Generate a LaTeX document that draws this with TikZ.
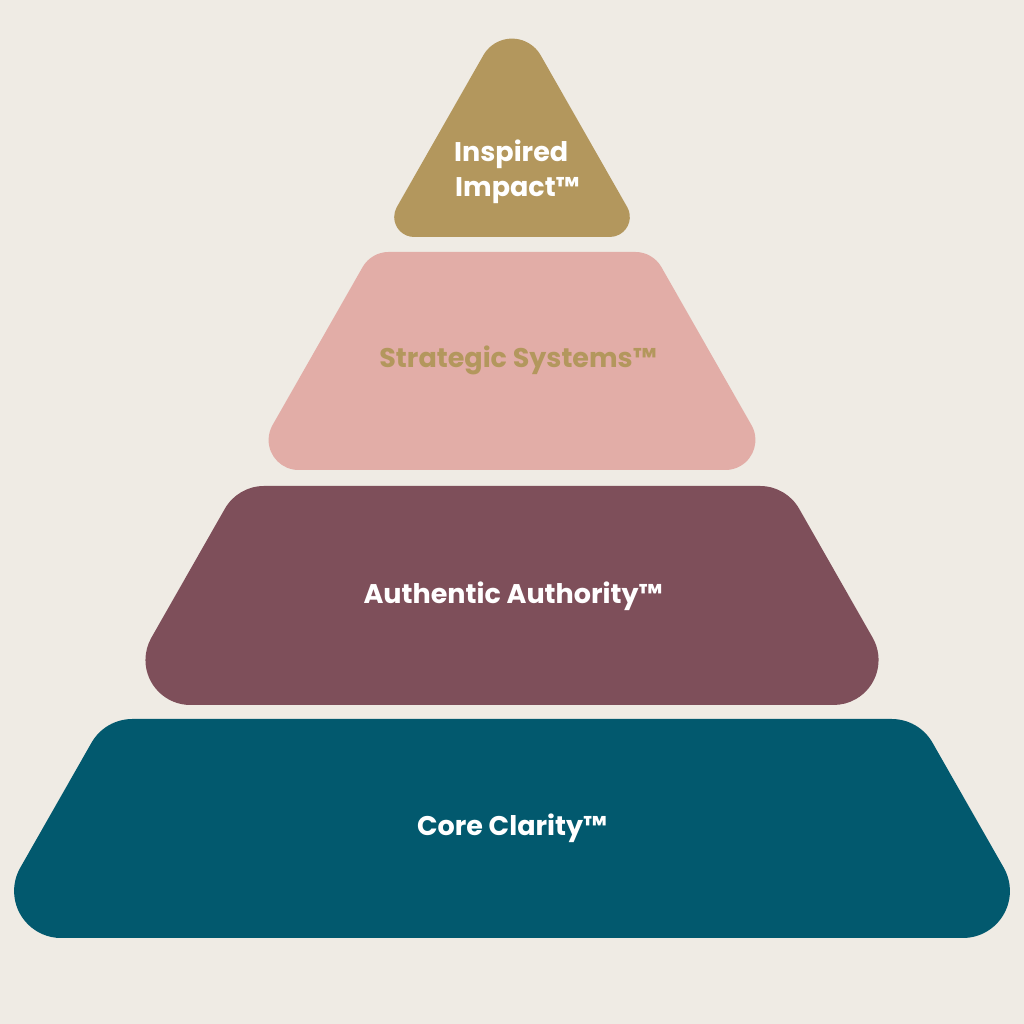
\documentclass[tikz,border=0pt]{standalone}
\usepackage{fontspec}
\setmainfont{Poppins}
\definecolor{bgcol}{HTML}{EFEBE4}
\definecolor{goldcol}{HTML}{B3975D}
\definecolor{pinkcol}{HTML}{E2ADA7}
\definecolor{mauvecol}{HTML}{7E4F5A}
\definecolor{tealcol}{HTML}{02596E}
\newcommand\pyrApY{5}
\newcommand\pyrSlope{0.57}
\newcommand\pyrCx{512}
% trapezoid tier: #1 top y px, #2 bottom y px, #3 top radius, #4 bottom radius, #5 colour
\newcommand\pyrTier[5]{%
  \pgfmathsetmacro\pyrYt{1024-#1}%
  \pgfmathsetmacro\pyrYb{1024-#2}%
  \pgfmathsetmacro\pyrHa{(#1-\pyrApY)*\pyrSlope}%
  \pgfmathsetmacro\pyrHb{(#2-\pyrApY)*\pyrSlope}%
  \pgfmathsetmacro\pyrTh{atan(1/\pyrSlope)}%
  \pgfmathsetmacro\pyrDb{#4/tan(\pyrTh/2)}%
  \pgfmathsetmacro\pyrDt{#3*tan(\pyrTh/2)}%
  \fill[#5] (\pyrCx,\pyrYb) -- ({\pyrCx-\pyrHb+\pyrDb},\pyrYb)
    arc[start angle=270,end angle={90+\pyrTh},radius=#4]
    -- ({\pyrCx-\pyrHa-\pyrDt*cos(\pyrTh)},{\pyrYt-\pyrDt*sin(\pyrTh)})
    arc[start angle={90+\pyrTh},end angle=90,radius=#3]
    -- ({\pyrCx+\pyrHa-\pyrDt},\pyrYt)
    arc[start angle=90,end angle={90-\pyrTh},radius=#3]
    -- ({\pyrCx+\pyrHb-\pyrDb*cos(\pyrTh)},{\pyrYb+\pyrDb*sin(\pyrTh)})
    arc[start angle={90-\pyrTh},end angle=-90,radius=#4] -- cycle;
}
% top triangle: #1 bottom y px, #2 apex radius, #3 base radius, #4 colour
\newcommand\pyrTop[4]{%
  \pgfmathsetmacro\pyrYa{1024-\pyrApY}%
  \pgfmathsetmacro\pyrYb{1024-#1}%
  \pgfmathsetmacro\pyrHb{(#1-\pyrApY)*\pyrSlope}%
  \pgfmathsetmacro\pyrTh{atan(1/\pyrSlope)}%
  \pgfmathsetmacro\pyrDb{#3/tan(\pyrTh/2)}%
  \pgfmathsetmacro\pyrDa{#2*tan(\pyrTh)}%
  \fill[#4] (\pyrCx,\pyrYb) -- ({\pyrCx-\pyrHb+\pyrDb},\pyrYb)
    arc[start angle=270,end angle={90+\pyrTh},radius=#3]
    -- ({\pyrCx-\pyrDa*cos(\pyrTh)},{\pyrYa-\pyrDa*sin(\pyrTh)})
    arc[start angle={90+\pyrTh},end angle={90-\pyrTh},radius=#2]
    -- ({\pyrCx+\pyrHb-\pyrDb*cos(\pyrTh)},{\pyrYb+\pyrDb*sin(\pyrTh)})
    arc[start angle={90-\pyrTh},end angle=-90,radius=#3] -- cycle;
}
\begin{document}
\begin{tikzpicture}[x=1pt,y=1pt,
  lbl/.style={inner sep=0pt,font=\fontsize{27}{32}\selectfont\bfseries}]
\useasboundingbox (0,0) rectangle (1024,1024);
\fill[bgcol] (0,0) rectangle (1024,1024);
\pyrTop{237}{33}{20}{goldcol}
\pyrTier{252}{470}{30}{30}{pinkcol}
\pyrTier{486}{705}{45}{45}{mauvecol}
\pyrTier{719}{938}{47}{47}{tealcol}
\node[lbl,white,anchor=base west] (inspired) at (454,{1024-162}) {Inspired};
\node[lbl,white,anchor=base west] (impact) at (455,{1024-197}) {Impact™};
\node[lbl,goldcol,anchor=base] (strategic) at (518,{1024-368}) {Strategic Systems™};
\node[lbl,white,anchor=base] (authentic) at (513,{1024-604}) {Authentic Authority™};
\node[lbl,white,anchor=base] (core) at (512,{1024-836}) {Core Clarity™};
\end{tikzpicture}
\end{document}
